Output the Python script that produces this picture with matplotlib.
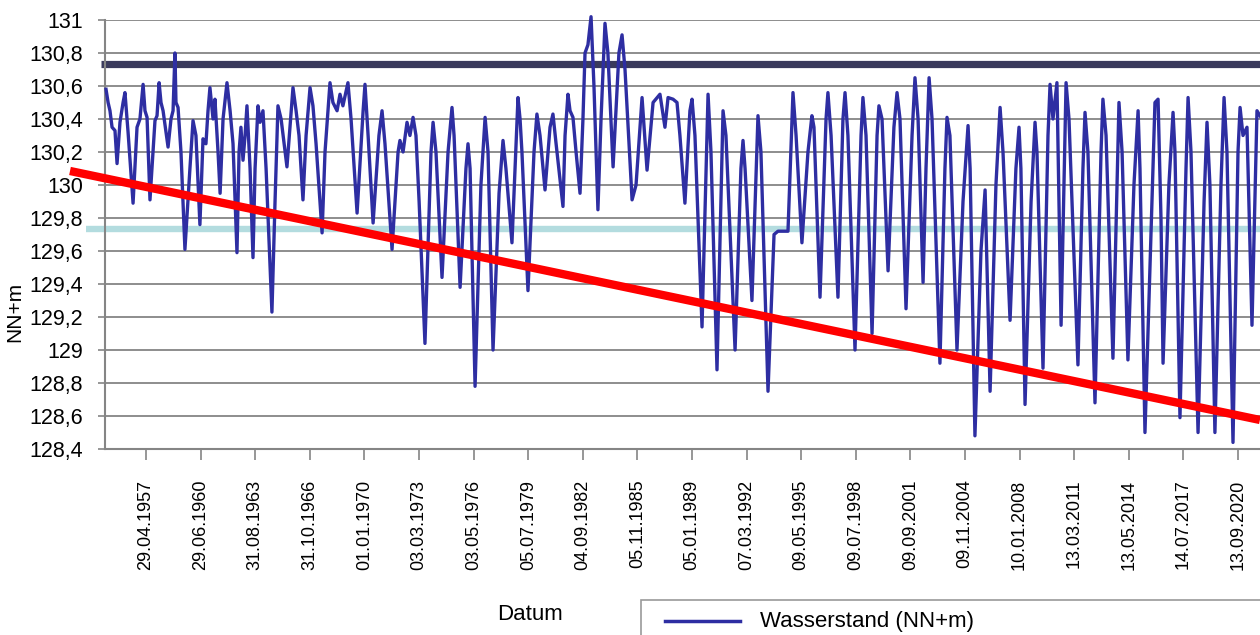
import matplotlib
matplotlib.use("Agg")
import matplotlib.pyplot as plt
import matplotlib.dates as mdates
from matplotlib.patches import Rectangle
from matplotlib.lines import Line2D
from datetime import datetime, timedelta

plt.rcParams['font.family'] = ['Liberation Sans', 'DejaVu Sans']

# ---- data: decimal years and water level (NN+m) ----
years = [
    1955.00, 1955.12, 1955.23, 1955.35, 1955.52, 1955.64, 1955.81, 1955.99, 1956.10, 1956.28,
    1956.57, 1956.80, 1956.97, 1957.15, 1957.26, 1957.38, 1957.55, 1957.84, 1957.96, 1958.08,
    1958.19, 1958.31, 1958.60, 1958.77, 1958.89, 1959.00, 1959.06, 1959.18, 1959.35, 1959.58,
    1959.87, 1960.05, 1960.22, 1960.45, 1960.63, 1960.80, 1960.92, 1961.03, 1961.21, 1961.32,
    1961.50, 1961.62, 1961.79, 1962.02, 1962.20, 1962.37, 1962.60, 1962.72, 1962.83, 1962.95,
    1963.07, 1963.18, 1963.36, 1963.53, 1963.65, 1963.82, 1963.94, 1964.11, 1964.29, 1964.63,
    1964.81, 1964.98, 1965.16, 1965.50, 1965.85, 1966.03, 1966.20, 1966.43, 1966.61, 1966.84,
    1967.01, 1967.19, 1967.54, 1967.71, 1968.00, 1968.17, 1968.41, 1968.58, 1968.75, 1969.04,
    1969.22, 1969.57, 1969.92, 1970.03, 1970.21, 1970.50, 1970.84, 1971.02, 1971.19, 1971.60,
    1971.95, 1972.06, 1972.24, 1972.47, 1972.64, 1972.82, 1972.99, 1973.17, 1973.51, 1973.86,
    1973.98, 1974.15, 1974.50, 1974.85, 1975.08, 1975.20, 1975.55, 1975.89, 1976.01, 1976.13,
    1976.42, 1976.76, 1977.00, 1977.17, 1977.46, 1977.81, 1978.04, 1978.21, 1978.56, 1978.91,
    1979.03, 1979.14, 1979.49, 1979.84, 1980.01, 1980.19, 1980.48, 1980.77, 1980.94, 1981.12,
    1981.52, 1981.64, 1981.81, 1981.93, 1982.10, 1982.28, 1982.51, 1982.68, 1982.80, 1982.97,
    1983.15, 1983.32, 1983.55, 1983.73, 1983.96, 1984.13, 1984.43, 1984.77, 1984.95, 1985.12,
    1985.53, 1985.76, 1986.11, 1986.40, 1986.75, 1987.15, 1987.44, 1987.62, 1987.91, 1988.14,
    1988.31, 1988.60, 1988.89, 1989.01, 1989.18, 1989.59, 1989.94, 1990.11, 1990.46, 1990.81,
    1990.98, 1991.51, 1991.85, 1991.97, 1992.09, 1992.49, 1992.84, 1993.01, 1993.42, 1993.77,
    1994.00, 1994.58, 1994.87, 1995.05, 1995.39, 1995.74, 1995.97, 1996.09, 1996.44, 1996.79,
    1996.90, 1997.08, 1997.48, 1997.77, 1997.89, 1998.06, 1998.47, 1998.82, 1998.93, 1999.11,
    1999.46, 1999.75, 1999.86, 2000.04, 2000.39, 2000.73, 2000.91, 2001.08, 2001.43, 2001.78,
    2001.95, 2002.13, 2002.42, 2002.59, 2002.77, 2002.94, 2003.40, 2003.69, 2003.81, 2003.98,
    2004.39, 2004.74, 2005.03, 2005.15, 2005.43, 2005.78, 2006.02, 2006.31, 2006.65, 2006.89,
    2007.06, 2007.47, 2007.81, 2007.99, 2008.10, 2008.34, 2008.69, 2008.92, 2009.03, 2009.38,
    2009.67, 2009.79, 2009.96, 2010.19, 2010.43, 2010.72, 2010.89, 2011.41, 2011.70, 2011.82,
    2011.99, 2012.40, 2012.75, 2012.86, 2013.04, 2013.44, 2013.79, 2013.97, 2014.31, 2014.66,
    2014.90, 2015.01, 2015.30, 2015.65, 2015.88, 2016.06, 2016.23, 2016.35, 2016.69, 2016.93,
    2017.04, 2017.33, 2017.68, 2017.80, 2017.97, 2018.38, 2018.73, 2018.90, 2019.07, 2019.36,
    2019.71, 2019.89, 2020.06, 2020.41, 2020.70, 2020.82, 2020.99, 2021.22, 2021.51, 2021.80,
    2022.09]
levels = [
    130.58, 130.50, 130.45, 130.35, 130.33, 130.13, 130.38, 130.50, 130.56, 130.32,
    129.89, 130.35, 130.40, 130.61, 130.45, 130.41, 129.91, 130.39, 130.42, 130.62,
    130.50, 130.45, 130.23, 130.40, 130.45, 130.80, 130.50, 130.47, 130.20, 129.61,
    130.10, 130.39, 130.30, 129.76, 130.28, 130.25, 130.45, 130.59, 130.40, 130.52,
    130.20, 129.95, 130.40, 130.62, 130.45, 130.25, 129.59, 130.20, 130.35, 130.15,
    130.30, 130.48, 130.10, 129.56, 130.10, 130.48, 130.38, 130.45, 130.10, 129.23,
    129.90, 130.48, 130.40, 130.11, 130.59, 130.45, 130.30, 129.91, 130.30, 130.59,
    130.48, 130.25, 129.71, 130.20, 130.62, 130.50, 130.45, 130.55, 130.48, 130.62,
    130.40, 129.83, 130.45, 130.61, 130.30, 129.77, 130.30, 130.45, 130.25, 129.61,
    130.20, 130.27, 130.20, 130.38, 130.30, 130.41, 130.30, 129.90, 129.04, 130.20,
    130.38, 130.20, 129.44, 130.20, 130.47, 130.30, 129.38, 130.10, 130.25, 130.10,
    128.78, 130.00, 130.41, 130.20, 129.00, 129.95, 130.27, 130.10, 129.65, 130.53,
    130.40, 130.20, 129.36, 130.20, 130.43, 130.30, 129.97, 130.35, 130.43, 130.25,
    129.87, 130.30, 130.55, 130.45, 130.41, 130.20, 129.95, 130.40, 130.80, 130.85,
    131.02, 130.60, 129.85, 130.40, 130.98, 130.80, 130.11, 130.80, 130.91, 130.70,
    129.91, 130.00, 130.53, 130.09, 130.50, 130.55, 130.35, 130.53, 130.52, 130.50,
    130.30, 129.89, 130.45, 130.52, 130.30, 129.14, 130.55, 130.20, 128.88, 130.45,
    130.30, 129.00, 130.10, 130.27, 130.10, 129.30, 130.42, 130.20, 128.75, 129.70,
    129.72, 129.72, 130.56, 130.30, 129.65, 130.20, 130.42, 130.35, 129.32, 130.40,
    130.56, 130.30, 129.32, 130.40, 130.56, 130.30, 129.00, 130.30, 130.53, 130.30,
    129.10, 130.30, 130.48, 130.40, 129.48, 130.35, 130.56, 130.40, 129.25, 130.30,
    130.65, 130.40, 129.41, 130.10, 130.65, 130.40, 128.92, 130.10, 130.41, 130.30,
    129.00, 129.90, 130.36, 130.10, 128.48, 129.60, 129.97, 128.75, 130.00, 130.47,
    130.20, 129.18, 130.10, 130.35, 130.10, 128.67, 129.90, 130.38, 130.20, 128.89,
    130.30, 130.61, 130.40, 130.62, 129.15, 130.62, 130.40, 128.91, 130.10, 130.44,
    130.20, 128.68, 130.20, 130.52, 130.30, 128.95, 130.50, 130.20, 128.94, 130.00,
    130.45, 130.10, 128.50, 129.70, 130.50, 130.52, 129.80, 128.92, 130.00, 130.44,
    130.20, 128.59, 130.10, 130.53, 130.20, 128.50, 129.90, 130.38, 130.00, 128.50,
    130.00, 130.53, 130.20, 128.44, 130.20, 130.47, 130.30, 130.35, 129.15, 130.45,
    130.40]

# reference levels and trend line
upper_level = 130.733
lower_level = 129.733
trend_years = [1952.91, 2021.97]
trend_levels = [130.085, 128.576]

tick_labels = ["29.04.1957", "29.06.1960", "31.08.1963", "31.10.1966", "01.01.1970",
               "03.03.1973", "03.05.1976", "05.07.1979", "04.09.1982", "05.11.1985",
               "05.01.1989", "07.03.1992", "09.05.1995", "09.07.1998", "09.09.2001",
               "09.11.2004", "10.01.2008", "13.03.2011", "13.05.2014", "14.07.2017",
               "13.09.2020"]
y_ticks = [128.4, 128.6, 128.8, 129.0, 129.2, 129.4, 129.6, 129.8, 130.0, 130.2,
           130.4, 130.6, 130.8, 131.0]
y_tick_labels = ["128,4", "128,6", "128,8", "129", "129,2", "129,4", "129,6", "129,8",
                 "130", "130,2", "130,4", "130,6", "130,8", "131"]


def dec2dt(y):
    yr = int(y)
    return datetime(yr, 1, 1) + timedelta(days=(y - yr) * 365.25)


dates = [dec2dt(y) for y in years]
tick_dates = [datetime.strptime(s, "%d.%m.%Y") for s in tick_labels]

W, H = 1260, 635
fig = plt.figure(figsize=(W / 100, H / 100), dpi=100)
ax = fig.add_axes([105 / W, 1 - 449 / H, (W - 105) / W, (449 - 20) / H])

ax.set_xlim(dec2dt(1954.94), dec2dt(2021.975))
ax.set_ylim(128.4, 131.0)

grid_col = '#858585'
ax.set_yticks(y_ticks)
ax.set_yticklabels(y_tick_labels, fontsize=15.5)
ax.yaxis.grid(True, color=grid_col, linewidth=1.3)
ax.set_axisbelow(True)

ax.set_xticks(mdates.date2num(tick_dates))
ax.set_xticklabels(tick_labels, rotation=90, fontsize=13)
ax.tick_params(axis='x', direction='out', length=8, width=1.2, color=grid_col, pad=14)
ax.tick_params(axis='y', direction='out', length=5, width=1.2, color=grid_col, pad=11)

for s in ['top', 'right']:
    ax.spines[s].set_visible(False)
for s in ['left', 'bottom']:
    ax.spines[s].set_color(grid_col)
    ax.spines[s].set_linewidth(1.5)

# reference lines (extend slightly outside the plot area like in the original)
ax.plot([dec2dt(1954.71), dec2dt(2022.5)], [upper_level, upper_level],
        color='#3a3a5c', linewidth=5.2, clip_on=False, zorder=2, solid_capstyle='butt')
ax.plot([dec2dt(1953.84), dec2dt(2022.5)], [lower_level, lower_level],
        color='#b3dcdf', linewidth=4.6, clip_on=False, zorder=2, solid_capstyle='butt')

# data series
ax.plot(dates, levels, color='#2e2ea2', linewidth=2.4, clip_on=False, zorder=3)

# trend line
ax.plot([dec2dt(y) for y in trend_years], trend_levels, color='#ff0000', linewidth=6,
        clip_on=False, zorder=4, solid_capstyle='butt')

# axis titles
fig.text(15 / W, 1 - 312 / H, "NN+m", rotation=90, fontsize=15, ha='center', va='center')
fig.text(530 / W, 1 - 614 / H, "Datum", fontsize=16, ha='center', va='center')

# legend box (partially cut off at the bottom right, as in the original)
fig.patches.append(Rectangle((641 / W, 1 - 660 / H), 700 / W, 60 / H,
                             transform=fig.transFigure, facecolor='white',
                             edgecolor='#9a9a9a', linewidth=1.2, zorder=5))
fig.lines.append(Line2D([665 / W, 740 / W], [1 - 621 / H, 1 - 621 / H],
                        transform=fig.transFigure, color='#2e2ea2', linewidth=2.5, zorder=6))
fig.text(760 / W, 1 - 621 / H, "Wasserstand (NN+m)", fontsize=16, ha='left',
         va='center', zorder=7)

fig.savefig("out.png", dpi=100)
